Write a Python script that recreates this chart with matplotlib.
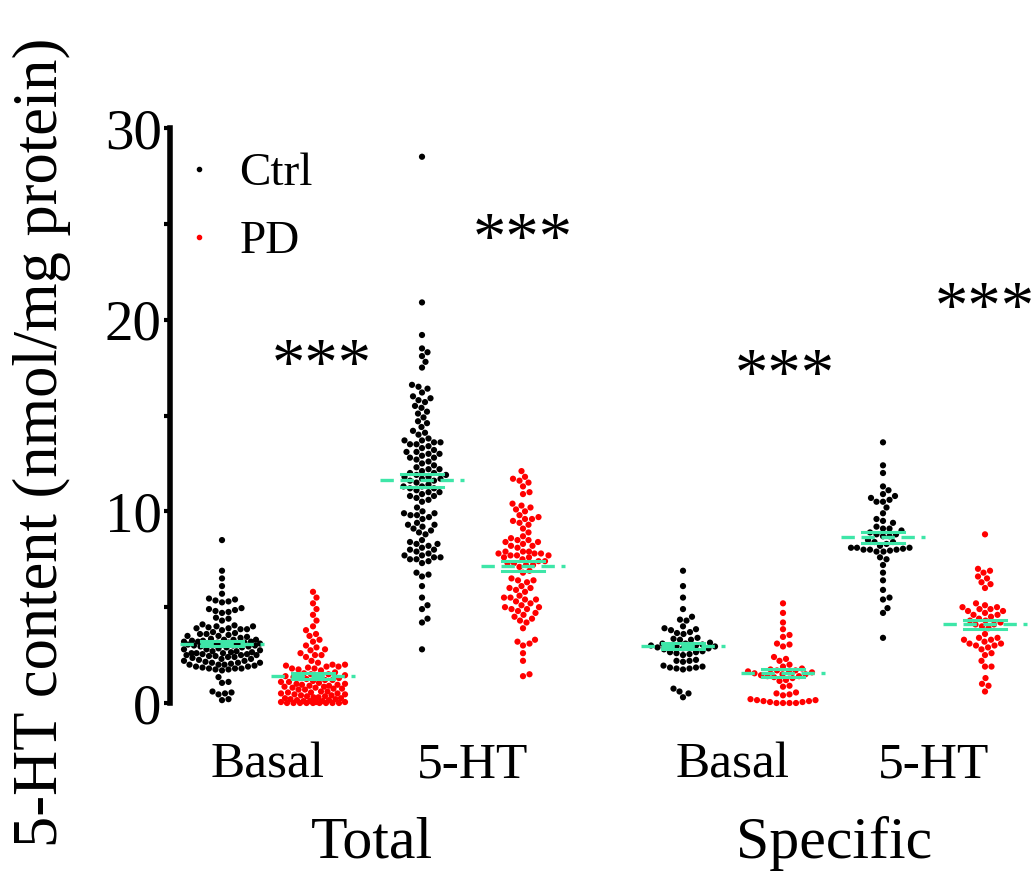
import numpy as np
import matplotlib
matplotlib.use('Agg')
import matplotlib.pyplot as plt
from matplotlib.lines import Line2D

plt.rcParams['font.family'] = 'Liberation Serif'

# 5-HT content (nmol/mg protein)
total_basal_ctrl = [8.5, 6.9, 6.5, 6.1, 5.7, 5.45, 5.4, 5.35, 5.3, 5.25,
                    4.95, 4.9, 4.85, 4.8, 4.75, 4.7, 4.45, 4.4, 4.3,
                    4.1, 4.05, 4.0, 4.0, 3.95, 3.9, 3.9, 3.85, 3.85, 3.8,
                    3.7, 3.65, 3.6, 3.6, 3.55, 3.5, 3.5, 3.45,
                    3.4, 3.35, 3.3, 3.3, 3.25, 3.2, 3.2, 3.15, 3.1, 3.1,
                    3.05, 3.0, 3.0, 2.95, 2.9, 2.9, 2.85, 2.8, 2.8, 2.75,
                    3.25, 3.15, 3.05, 3.2, 3.1, 3.0, 2.95, 3.3, 3.15, 3.05,
                    2.7, 2.7, 2.65, 2.6, 2.6, 2.55, 2.5, 2.5, 2.45, 2.4,
                    2.65, 2.55, 2.45, 2.6, 2.5, 2.4, 2.35, 2.3, 2.3, 2.25,
                    2.2, 2.2, 2.15, 2.1, 2.1, 2.05, 2.0, 2.0, 1.95, 1.9,
                    2.1, 2.0, 1.9, 1.85, 1.8, 1.8, 1.75, 1.8, 1.7, 1.75,
                    1.35, 1.1, 1.05, 0.6, 0.5, 0.55, 0.45, 0.2, 0.15]
total_basal_pd = [5.8, 5.5, 5.2, 4.9, 4.6, 4.3, 4.0, 3.8, 3.6, 3.5,
                  3.3, 3.2, 3.0, 2.9, 2.8, 2.75, 2.6, 2.5, 2.5, 2.4,
                  2.2, 2.1, 2.0, 2.0, 1.95, 1.9, 1.9, 1.85, 1.8, 1.8,
                  1.75, 1.7, 1.6, 1.55, 1.5, 1.5, 1.45, 1.4, 1.4, 1.35,
                  1.3, 1.3, 1.25, 1.2, 1.2, 1.15, 1.1, 1.1, 1.05, 1.0,
                  1.0, 0.95, 0.95, 0.9, 0.9, 0.85, 0.85, 0.8, 0.8, 0.75,
                  0.75, 0.7, 0.7, 0.6, 0.6, 0.55, 0.55, 0.5, 0.5, 0.45,
                  0.45, 0.4, 0.4, 0.35, 0.35, 0.3, 0.3, 0.25, 0.25, 0.2,
                  0.2, 0.15, 0.15, 0.1, 0.1, 0.1, 0.05, 0.05, 0.05, 0.0,
                  0.0, 0.0, 0.0, 0.0, 0.0, 0.0, 0.0, 0.0]
total_5ht_ctrl = [28.5, 20.9, 19.2, 18.5, 18.3, 18.1, 17.8, 17.5,
                  16.6, 16.5, 16.4, 16.2, 16.0, 15.9, 15.8, 15.7, 15.5, 15.4,
                  15.2, 15.1, 14.9, 14.7, 14.6, 14.4, 14.2, 14.1, 14.0,
                  13.8, 13.7, 13.7, 13.6, 13.6, 13.5, 13.5, 13.4, 13.3,
                  13.2, 13.1, 13.1, 13.0, 13.0, 12.9, 12.8, 12.8, 12.7, 12.6,
                  12.5, 12.4, 12.3, 12.2, 12.2, 12.1, 12.0, 12.0, 11.9, 11.9,
                  11.8, 11.8, 11.7, 11.7, 11.6, 11.6, 11.5, 11.4, 11.3, 11.3,
                  11.2, 11.2, 11.1, 11.0, 11.0, 10.9, 10.8, 10.8, 10.7, 10.6,
                  10.5, 10.2, 10.0, 9.9, 9.9, 9.8, 9.8, 9.7, 9.6,
                  9.4, 9.3, 9.3, 9.2, 9.1, 9.0, 8.9, 8.8,
                  8.5, 8.4, 8.3, 8.3, 8.2, 8.1, 8.0, 8.0, 7.9,
                  7.8, 7.7, 7.7, 7.6, 7.6, 7.5, 7.5, 7.4, 7.3,
                  6.8, 6.7, 6.6, 6.1, 5.5, 5.1, 4.9, 4.4, 4.2, 2.8]
total_5ht_pd = [12.1, 11.8, 11.7, 11.6, 11.5, 11.3, 11.0, 10.9,
                10.4, 10.3, 10.2, 10.1, 10.0, 9.8, 9.7, 9.6, 9.6, 9.5, 9.4, 9.3,
                9.1, 8.9, 8.7, 8.6, 8.5, 8.5, 8.4, 8.4, 8.3, 8.2, 8.2, 8.1,
                7.9, 7.9, 7.8, 7.8, 7.7, 7.7, 7.6, 7.6, 7.8, 7.9, 7.7,
                7.5, 7.4, 7.4, 7.3, 7.3, 7.2, 7.2, 7.1, 6.9, 6.8,
                6.5, 6.4, 6.4, 6.3, 6.1, 6.0, 6.0, 5.9, 5.8,
                5.6, 5.5, 5.5, 5.4, 5.4, 5.3, 5.2, 5.1, 5.0, 5.0, 4.9, 4.9,
                4.8, 4.7, 4.6, 4.5, 4.4, 4.3, 4.2,
                3.9, 3.3, 3.2, 3.1, 3.0, 2.6, 2.2, 1.5, 1.4]
spec_basal_ctrl = [6.9, 6.1, 5.5, 4.9, 4.5, 4.35, 4.3, 4.0, 3.9, 3.85,
                   3.8, 3.7, 3.65, 3.6, 3.4, 3.35, 3.3, 3.3,
                   3.15, 3.1, 3.1, 3.05, 3.0, 3.0, 3.0, 2.95, 2.95, 2.9,
                   2.9, 2.85, 2.85, 2.8, 2.7, 2.65, 2.65, 2.6, 2.55, 2.5,
                   2.25, 2.2, 2.2, 2.15, 1.95, 1.9, 1.85, 1.85, 1.8, 1.8,
                   1.75, 0.75, 0.6, 0.5, 0.3]
spec_basal_pd = [5.2, 4.7, 4.2, 3.85, 3.55, 3.45, 3.1, 3.05, 2.95, 2.4,
                 2.3, 2.2, 2.0, 1.9, 1.8, 1.75, 1.7, 1.7, 1.65, 1.6,
                 1.6, 1.55, 1.5, 1.5, 1.45, 1.4, 1.4, 1.35, 1.3,
                 1.2, 1.15, 0.9, 0.85, 0.55, 0.5, 0.45, 0.4,
                 0.2, 0.15, 0.15, 0.1, 0.1, 0.05, 0.05, 0.0, 0.0, 0.0, 0.0]
spec_5ht_ctrl = [13.6, 12.4, 12.0, 11.3, 11.1, 10.9, 10.8, 10.7, 10.6, 10.5,
                 10.5, 10.2, 9.9, 9.6, 9.5, 9.4, 9.2, 9.1, 9.1, 9.0, 8.9,
                 8.8, 8.8, 8.7, 8.7, 8.5, 8.4, 8.4, 8.3,
                 8.1, 8.1, 8.05, 8.0, 8.0, 8.0, 7.95, 7.9, 7.9, 8.1, 8.2,
                 7.6, 7.5, 7.2, 6.8, 6.4, 5.9, 5.5, 5.4, 4.95, 4.7, 3.4]
spec_5ht_pd = [8.8, 7.0, 6.9, 6.8, 6.6, 6.5, 6.3, 6.2, 6.0,
               5.2, 5.1, 5.0, 5.0, 4.9, 4.9, 4.8, 4.8, 4.7, 4.6, 4.6, 4.5,
               4.4, 4.3, 4.3, 4.2, 4.1, 4.1, 4.0, 3.9,
               3.6, 3.4, 3.4, 3.3, 3.3, 3.2, 3.1, 3.1, 3.0, 3.0, 2.9, 2.8,
               2.6, 2.5, 2.2, 1.9, 1.9, 1.3, 1.0, 0.9, 0.6]

categories = ['Basal', '5-HT', 'Basal', '5-HT']
group_names = ['Total', 'Specific']
legend_labels = ['Ctrl', 'PD']
stars = ['***', '***', '***', '***']

ctrl_sets = [total_basal_ctrl, total_5ht_ctrl, spec_basal_ctrl, spec_5ht_ctrl]
pd_sets = [total_basal_pd, total_5ht_pd, spec_basal_pd, spec_5ht_pd]

ctrl_pos = [0.0, 2.0, 4.61, 6.61]
pd_pos = [0.91, 3.01, 5.61, 7.63]
ctrl_halfw = [38, 35, 32, 32]   # max swarm half-width, px
pd_halfw = [32, 28, 36, 25]
star_x = [1.0, 3.01, 5.63, 7.63]
star_y = [17.5, 24.1, 17.0, 20.5]

W, H = 1035, 872
fig = plt.figure(figsize=(W / 100, H / 100), dpi=100)
ax = fig.add_axes([170 / W, 1 - 703 / H, (W - 170) / W, 575 / H])
ax.set_xlim(-0.52, 8.13)
ax.set_ylim(0, 30)

XPX = 100.0          # pixels per x unit
YPX = 575 / 30.0     # pixels per y unit
D = 6.5              # dot spacing in pixels


def swarm_offsets(vals, halfw):
    y = np.asarray(vals, float) * YPX
    order = np.argsort(y, kind='stable')
    placed = []
    offs = np.zeros(len(y))
    steps = np.arange(0, halfw + 0.01, 0.5)
    cands = [0.0] + [s * sg for s in steps[1:] for sg in (1, -1)]
    for i in order:
        near = [(px, py) for px, py in placed if abs(py - y[i]) < D]
        best, best_d = None, -1
        for c in cands:
            dmin = min([np.hypot(c - px, y[i] - py) for px, py in near], default=1e9)
            if dmin >= D:
                best = c
                break
            if dmin > best_d:
                best_d, best = dmin, c
        offs[i] = best
        placed.append((best, y[i]))
    return offs / XPX


GREEN = '#3ee6a8'


def draw_group(vals, xc, color, halfw):
    v = np.asarray(vals, float)
    ax.scatter(xc + swarm_offsets(v, halfw), v, s=20, color=color,
               edgecolors='none', zorder=3, clip_on=False)
    m = v.mean()
    sem = v.std(ddof=1) / np.sqrt(len(v))
    ax.plot([xc - 0.42, xc + 0.42], [m, m], color=GREEN, lw=2.4,
            ls=(0, (4, 2)), zorder=4)
    for yy in (m - sem, m + sem):
        ax.plot([xc - 0.21, xc + 0.21], [yy, yy], color=GREEN, lw=2.2, zorder=4)


for vals, xc, hw in zip(ctrl_sets, ctrl_pos, ctrl_halfw):
    draw_group(vals, xc, 'black', hw)
for vals, xc, hw in zip(pd_sets, pd_pos, pd_halfw):
    draw_group(vals, xc, 'red', hw)

for xc, yy, s in zip(star_x, star_y, stars):
    ax.text(xc, yy, s, ha='center', va='center', fontsize=48, clip_on=False)

# axes styling
for sp in ['top', 'right', 'bottom']:
    ax.spines[sp].set_visible(False)
ax.spines['left'].set_linewidth(4)
ax.set_xticks([])
ax.set_yticks([0, 10, 20, 30])
ax.set_yticks([5, 15, 25], minor=True)
ax.tick_params(axis='y', which='both', direction='out', length=4, width=3,
               labelsize=41, pad=2)

for xc0, xc1, lab in zip(ctrl_pos, pd_pos, categories):
    ax.text((xc0 + xc1) / 2, -3.25, lab, ha='center', va='center', fontsize=37)
for i, name in enumerate(group_names):
    xc = (ctrl_pos[2 * i] + pd_pos[2 * i + 1]) / 2
    ax.text(xc, -7.35, name, ha='center', va='center', fontsize=43)

fig.text(42 / W, 1 - 442 / H, '5-HT content (nmol/mg protein)', rotation=90,
         ha='center', va='center', fontsize=45)

handles = [Line2D([], [], ls='', marker='o', markersize=3, color='black'),
           Line2D([], [], ls='', marker='o', markersize=3, color='red')]
ax.legend(handles, legend_labels, loc='upper left', frameon=False, fontsize=34,
          handlelength=0.4, handletextpad=0.65, labelspacing=0.53, borderpad=0,
          borderaxespad=0, bbox_to_anchor=(190 / W, 1 - 152 / H),
          bbox_transform=fig.transFigure)

fig.savefig('out.png', dpi=100)
